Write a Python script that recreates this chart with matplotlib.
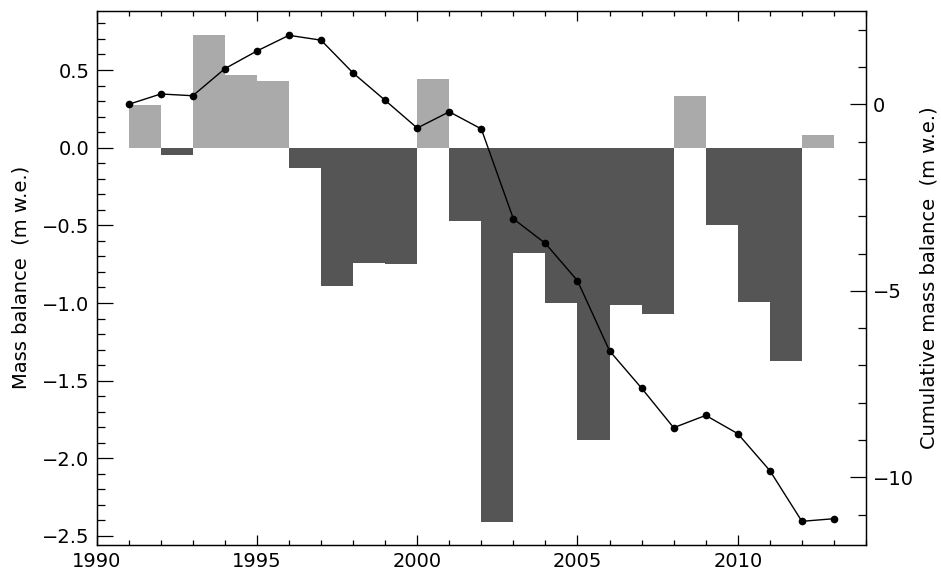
import matplotlib
matplotlib.use("Agg")
import matplotlib.pyplot as plt
from matplotlib.ticker import MultipleLocator, FuncFormatter

years = list(range(1991, 2014))
annual_balance = [0.277, -0.045, 0.728, 0.467, 0.432, -0.133, -0.891, -0.743,
                  -0.751, 0.445, -0.473, -2.408, -0.676, -1.002, -1.883, -1.013,
                  -1.071, 0.333, -0.498, -0.994, -1.374, 0.082]
cumulative = [0.0, 0.277, 0.23, 0.956, 1.43, 1.85, 1.72, 0.84, 0.107, -0.636,
              -0.2, -0.66, -3.07, -3.73, -4.73, -6.61, -7.61, -8.67, -8.34,
              -8.83, -9.82, -11.18, -11.11]

plt.rcParams['font.family'] = ['DejaVu Sans']
plt.rcParams['font.size'] = 14

fig = plt.figure(figsize=(9.41, 5.72), dpi=100)
ax = fig.add_axes([0.1027, 0.0472, 0.8176, 0.9341])

bar_years = years[:-1]
colors = ['#aaaaaa' if v >= 0 else '#555555' for v in annual_balance]
ax.bar(bar_years, annual_balance, width=1.0, align='edge', color=colors, linewidth=0)

ax.set_xlim(1990, 2014)
ax.set_ylim(-2.558, 0.882)
ax.xaxis.set_major_locator(MultipleLocator(5))
ax.xaxis.set_minor_locator(MultipleLocator(1))
ax.yaxis.set_major_locator(MultipleLocator(0.5))
ax.yaxis.set_minor_locator(MultipleLocator(0.1))
ax.yaxis.set_major_formatter(FuncFormatter(lambda v, p: f"{v:.1f}".replace('-', '\u2212')))
ax.tick_params(axis='x', which='major', direction='in', length=7.2, width=0.9,
               top=True, bottom=True, labelsize=14, pad=5)
ax.tick_params(axis='x', which='minor', direction='in', length=3.6, width=0.9,
               top=True, bottom=True)
ax.tick_params(axis='y', which='major', direction='in', length=11.5, width=0.9,
               left=True, right=False, labelsize=14, pad=5)
ax.tick_params(axis='y', which='minor', direction='in', length=5.8, width=0.9,
               left=True, right=False)
ax.set_ylabel('Mass balance  (m w.e.)', fontsize=14)
ax.yaxis.set_label_coords(-0.0866, 0.5)

ax2 = ax.twinx()
ax2.plot(years, cumulative, color='black', linewidth=1.0, marker='o', markersize=4.5)
ax2.set_ylim(-11.815, 2.51)
ax2.yaxis.set_major_locator(MultipleLocator(5))
ax2.yaxis.set_minor_locator(MultipleLocator(1))
ax2.yaxis.set_major_formatter(FuncFormatter(lambda v, p: f"{int(round(v))}".replace('-', '\u2212')))
ax2.tick_params(axis='y', which='major', direction='in', length=11.5, width=0.9,
                right=True, left=False, labelsize=14, pad=5)
ax2.tick_params(axis='y', which='minor', direction='in', length=5.8, width=0.9,
                right=True, left=False)
ax2.set_ylabel('Cumulative mass balance  (m w.e.)', fontsize=14)
ax2.yaxis.set_label_coords(1.069, 0.5)

for a in (ax, ax2):
    for s in a.spines.values():
        s.set_linewidth(0.9)

fig.savefig('out.png', dpi=100)
